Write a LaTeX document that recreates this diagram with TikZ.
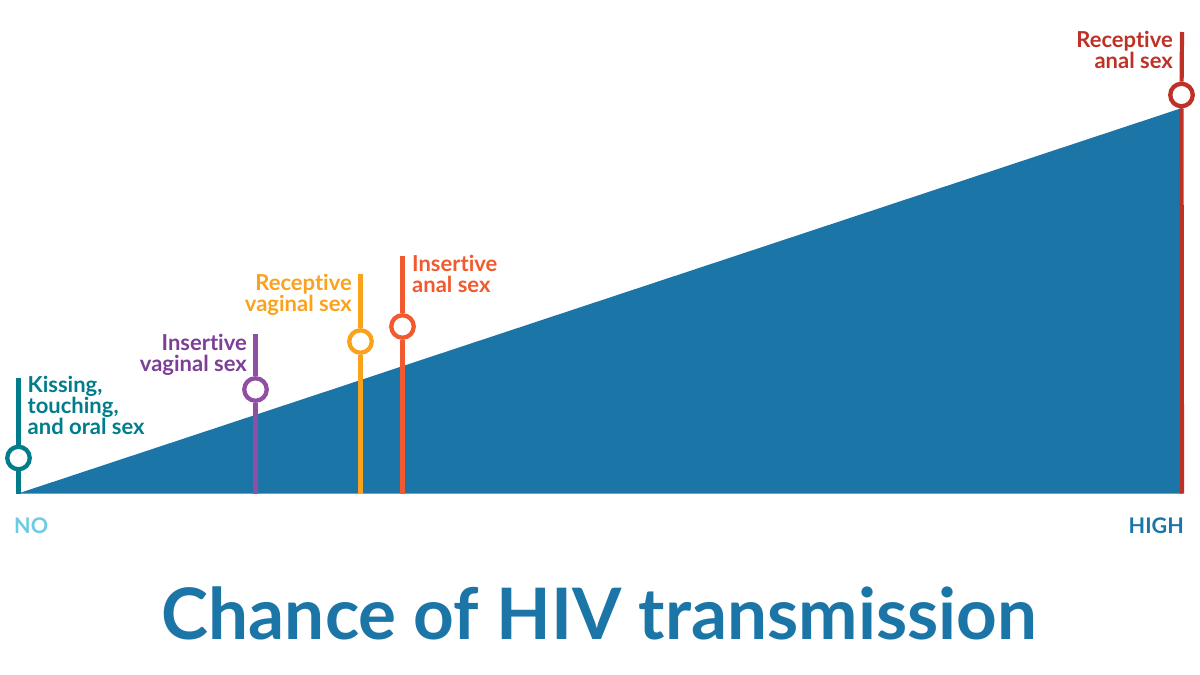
\documentclass[tikz,border=0pt]{standalone}
\usepackage{fontspec}
\setmainfont{Lato}[Ligatures=NoCommon]
\definecolor{wedgeblue}{HTML}{1B75A7}
\definecolor{kissteal}{HTML}{007C8A}
\definecolor{ivpurple}{HTML}{8F4FA3}
\definecolor{ivtext}{HTML}{7B3F98}
\definecolor{rvorange}{HTML}{FAA21B}
\definecolor{iared}{HTML}{F15A2E}
\definecolor{rared}{HTML}{BE3127}
\definecolor{nocyan}{HTML}{6CCAE3}
\tikzset{
  stem/.style={line width=4.2pt},
  dot/.style={circle,draw,fill=white,line width=4.3pt,inner sep=0pt,minimum size=22.5pt},
  lab/.style={inner sep=0pt,font=\fontsize{22}{21}\selectfont\bfseries},
  ends/.style={inner sep=0pt,font=\fontsize{21.5}{21}\selectfont\bfseries}
}
\begin{document}
\begin{tikzpicture}[x=1pt,y=-1pt]
\useasboundingbox (0,0) rectangle (1200,675);
\fill[wedgeblue] (18,493.5) -- (1182,108) -- (1182,493.5) -- cycle;

\coordinate (Kbase) at (18.5,493.5);
\coordinate (Ktop) at (18.5,378);
\node[dot,draw=kissteal] (K) at (18.5,458) {};
\coordinate (IVbase) at (255.5,493.5);
\coordinate (IVtop) at (255.5,333.5);
\node[dot,draw=ivpurple] (IV) at (255.5,389.5) {};
\coordinate (RVbase) at (360.5,493.5);
\coordinate (RVtop) at (360.5,273.5);
\node[dot,draw=rvorange] (RV) at (360.5,341.5) {};
\coordinate (IAbase) at (402.5,493.5);
\coordinate (IAtop) at (402.5,255.5);
\node[dot,draw=iared] (IA) at (402.5,326.5) {};
\coordinate (RAbase) at (1182,493.5);
\coordinate (RAtop) at (1182,32);
\node[dot,draw=rared] (RA) at (1181.5,95) {};

\draw[stem,draw=kissteal] (Kbase) -- (K) (K) -- (Ktop);
\draw[stem,draw=ivpurple] (IVbase) -- (IV) (IV) -- (IVtop);
\draw[stem,draw=rvorange] (RVbase) -- (RV) (RV) -- (RVtop);
\draw[stem,draw=iared] (IAbase) -- (IA) (IA) -- (IAtop);
\draw[stem,draw=rared] (RAbase) -- (RA) (RA) -- (RAtop);

\node[lab,text=kissteal,align=left,anchor=north west] (Klab) at (27.5,376) {Kissing,\\touching,\\and oral sex};
\node[lab,text=ivtext,align=right,anchor=north east] (IVlab) at (247,333.5) {Insertive\\vaginal sex};
\node[lab,text=rvorange,align=right,anchor=north east] (RVlab) at (352,273.5) {Receptive\\vaginal sex};
\node[lab,text=iared,align=left,anchor=north west] (IAlab) at (412,254.5) {Insertive\\anal sex};
\node[lab,text=rared,align=right,anchor=north east] (RAlab) at (1173,30.5) {Receptive\\anal sex};

\node[ends,text=nocyan,anchor=base west] (no) at (14,533) {NO};
\node[ends,text=wedgeblue,anchor=base east] (high) at (1184,533) {HIGH};
\node[inner sep=0pt,text=wedgeblue,font=\fontsize{71}{71}\selectfont\bfseries,anchor=base] (title) at (599.5,639) {Chance of HIV transmission};
\end{tikzpicture}
\end{document}
